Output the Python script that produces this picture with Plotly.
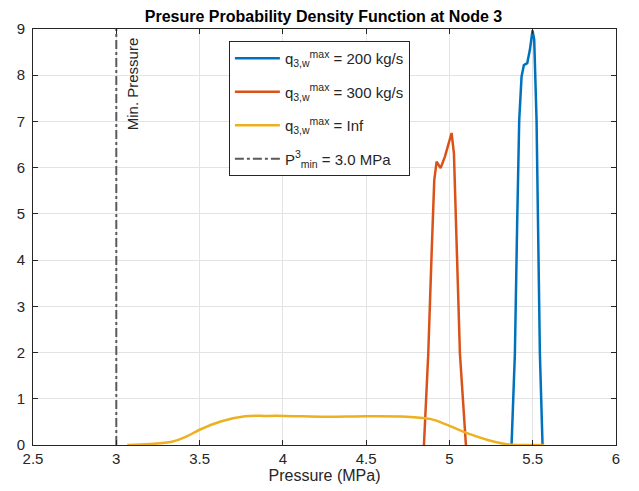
import plotly.graph_objects as go

# blue: q max = 200 kg/s
p_200 = [5.373, 5.393, 5.407, 5.419, 5.433, 5.447, 5.467, 5.483, 5.499, 5.509, 5.523, 5.533, 5.543, 5.559]
pdf_200 = [0.0, 1.98, 4.87, 7.03, 7.97, 8.22, 8.26, 8.55, 8.97, 8.77, 7.03, 4.87, 1.98, 0.0]

# orange: q max = 300 kg/s
p_300 = [4.847, 4.873, 4.893, 4.909, 4.923, 4.947, 4.973, 4.999, 5.013, 5.027, 5.043, 5.063, 5.099]
pdf_300 = [0.0, 1.98, 4.14, 5.73, 6.13, 5.99, 6.24, 6.57, 6.75, 6.31, 4.14, 1.98, 0.0]

# yellow: q max = Inf
p_inf = [3.066, 3.2, 3.334, 3.42, 3.5, 3.627, 3.773, 3.9, 4.017, 4.26, 4.5, 4.745, 4.89, 4.99, 5.11, 5.23, 5.36, 5.48, 5.57]
pdf_inf = [0.0, 0.02, 0.07, 0.18, 0.33, 0.51, 0.62, 0.63, 0.63, 0.61, 0.62, 0.61, 0.56, 0.43, 0.25, 0.11, 0.01, 0.0, 0.0]

p_min = 3.0
y_span = [0, 9]

x_ticks = [2.5, 3, 3.5, 4, 4.5, 5, 5.5, 6]
y_ticks = list(range(0, 10))

FONT = "Liberation Sans, Arial, sans-serif"

fig = go.Figure()
fig.add_trace(go.Scatter(x=p_200, y=pdf_200, mode="lines", line=dict(color="#0072BD", width=2.5),
                         legendgroup="a", name="q<sub>3,w</sub><sup>max</sup> = 200 kg/s"))
fig.add_trace(go.Scatter(x=p_300, y=pdf_300, mode="lines", line=dict(color="#D95319", width=2.5),
                         legendgroup="b", name="q<sub>3,w</sub><sup>max</sup> = 300 kg/s"))
fig.add_trace(go.Scatter(x=p_inf, y=pdf_inf, mode="lines", line=dict(color="#EDB120", width=2.5, shape="spline"),
                         legendgroup="c", name="q<sub>3,w</sub><sup>max</sup> = Inf"))
fig.add_trace(go.Scatter(x=[p_min, p_min], y=y_span, mode="lines",
                         line=dict(color="#5a5a5a", width=2, dash="dashdot"),
                         legendgroup="d", name="P<sup>3</sup><sub>min</sub> = 3.0 MPa"))

fig.add_annotation(x=p_min, y=9, xref="x", yref="y", text="Min. Pressure", textangle=-90,
                   showarrow=False, xanchor="left", yanchor="top", xshift=6, yshift=-6,
                   font=dict(size=15, color="#262626", family=FONT))

axis_common = dict(showline=True, linecolor="#262626", linewidth=1, mirror="ticks",
                   ticks="inside", ticklen=5, tickcolor="#262626", automargin=False,
                   showgrid=True, gridcolor="#e3e3e3", gridwidth=1, zeroline=False,
                   tickfont=dict(size=15, color="#262626", family=FONT))

fig.update_xaxes(range=[2.5, 6], tickvals=x_ticks, ticktext=[f"{v:g}" for v in x_ticks],
                 title=dict(text="Pressure (MPa)", standoff=3, font=dict(size=16, color="#262626", family=FONT)),
                 **axis_common)
fig.update_yaxes(range=[0, 9], tickvals=y_ticks, ticklabelstandoff=4, **axis_common)

# page body adds an 8 px offset, so the figure is sized to fit the window
fig.update_layout(
    width=631, height=483,
    margin=dict(l=25, r=23, t=21, b=46),
    paper_bgcolor="white", plot_bgcolor="white",
    title=dict(text="<b>Presure Probability Density Function at Node 3</b>", x=0.5, xanchor="center",
               y=0.995, yanchor="top", font=dict(size=16, color="black", family=FONT)),
    font=dict(family=FONT, color="#262626"),
    legend=dict(x=0.336, y=0.971, xanchor="left", yanchor="top", bgcolor="white",
                bordercolor="#262626", borderwidth=1, font=dict(size=15, color="#262626", family=FONT),
                itemwidth=45, tracegroupgap=11),
    showlegend=True,
)

fig.write_html("out.html")
